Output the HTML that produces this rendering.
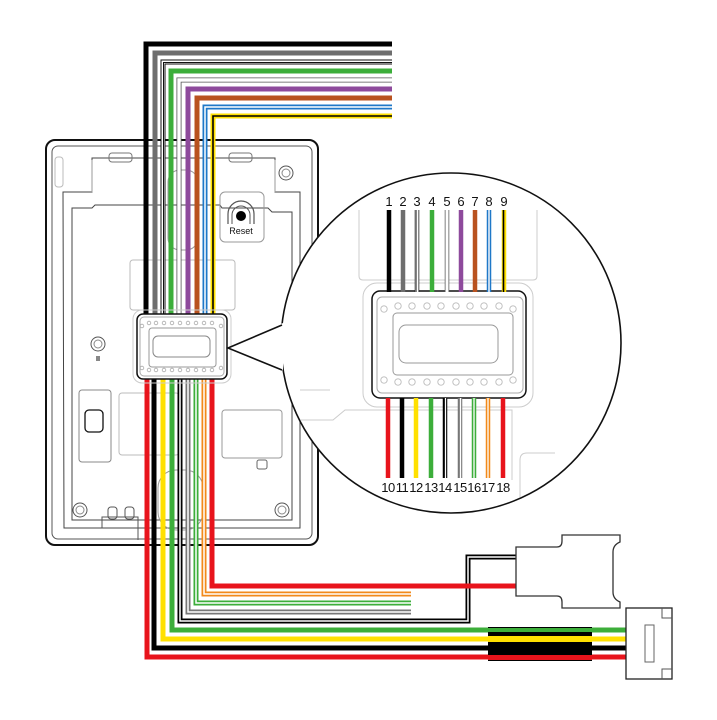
<!DOCTYPE html>
<html><head><meta charset="utf-8"><style>
html,body{margin:0;padding:0;background:#fff;}
svg{display:block;}
text{font-family:"Liberation Sans",sans-serif;}
</style></head><body>
<svg width="717" height="720" viewBox="0 0 717 720" xmlns="http://www.w3.org/2000/svg">
<defs><clipPath id="cc"><circle cx="451" cy="343" r="169"/></clipPath></defs>

<!-- Device -->
<rect x="46" y="140" width="272" height="405" rx="9" fill="#fff" stroke="#111" stroke-width="2"/>
<rect x="52" y="146" width="260" height="393" rx="6" fill="none" stroke="#555" stroke-width="1"/>
<rect x="55" y="157" width="8" height="30" rx="3" fill="none" stroke="#bbb"/>
<path d="M63 192 H92 V158 H275 V192 H300 V528 H64 Z" fill="none" stroke="#444" stroke-width="1"/>
<path d="M92 192 V160 M275 160 V192" stroke="#999" fill="none"/>
<path d="M72 208 H92 L95 205 H220 L222 208 H268 L272 212 H292 V520 H72 Z" fill="none" stroke="#444" stroke-width="1"/>
<rect x="109" y="153" width="23" height="9" rx="3" fill="none" stroke="#777"/>
<rect x="229" y="153" width="23" height="9" rx="3" fill="none" stroke="#777"/>
<rect x="220" y="192" width="44" height="50" rx="5" fill="none" stroke="#999"/>
<path d="M228 224 V214 A13 13 0 0 1 254 214 V224" fill="none" stroke="#555" stroke-width="1.2"/>
<path d="M232 224 V215 A9 9 0 0 1 250 215 V224" fill="none" stroke="#555" stroke-width="1"/>
<circle cx="241" cy="216" r="5" fill="#000"/>
<text x="241" y="234" font-size="9" text-anchor="middle" fill="#111">Reset</text>
<rect x="130" y="260" width="105" height="50" rx="3" fill="none" stroke="#bbb"/>
<rect x="168" y="170" width="30" height="80" rx="12" fill="none" stroke="#999"/>
<circle cx="98" cy="344" r="7" fill="none" stroke="#555"/><circle cx="98" cy="344" r="4" fill="none" stroke="#888"/>
<path d="M96 356 h4 v5 h-4z" fill="#888"/>
<circle cx="286" cy="173" r="7" fill="none" stroke="#555"/><circle cx="286" cy="173" r="4" fill="none" stroke="#888"/>
<circle cx="80" cy="510" r="7" fill="none" stroke="#555"/><circle cx="80" cy="510" r="4" fill="none" stroke="#888"/>
<circle cx="282" cy="510" r="7" fill="none" stroke="#555"/><circle cx="282" cy="510" r="4" fill="none" stroke="#888"/>
<rect x="79" y="390" width="32" height="72" rx="3" fill="none" stroke="#888"/>
<rect x="85" y="410" width="18" height="22" rx="4" fill="none" stroke="#111" stroke-width="1.3"/>
<rect x="119" y="393" width="60" height="62" rx="3" fill="none" stroke="#bbb"/>
<rect x="222" y="410" width="60" height="48" rx="3" fill="none" stroke="#999"/>
<rect x="257" y="460" width="10" height="9" rx="2" fill="none" stroke="#666"/>
<rect x="158" y="470" width="45" height="60" rx="18" fill="none" stroke="#999"/>
<path d="M102 528 V517 H138 V540" fill="none" stroke="#555"/>
<rect x="108" y="507" width="9" height="12" rx="3" fill="none" stroke="#555"/>
<rect x="125" y="507" width="9" height="12" rx="3" fill="none" stroke="#555"/>

<!-- Top wires -->
<g fill="none" stroke-linejoin="miter">
<path d="M146 315 V44 H392" stroke="#000" stroke-width="5"/>
<path d="M155 315 V53 H392" stroke="#6e6e6e" stroke-width="5"/>
<path d="M163 315 V62 H392" stroke="#111" stroke-width="5"/>
<path d="M163 315 V62 H392" stroke="#fff" stroke-width="3"/>
<path d="M163.5 315 V62.5 H392" stroke="#111" stroke-width="1"/>
<path d="M171 315 V71 H392" stroke="#3cae3a" stroke-width="5"/>
<path d="M179 315 V80 H392" stroke="#555" stroke-width="5"/>
<path d="M179 315 V80 H392" stroke="#fff" stroke-width="3.4"/>
<path d="M188 315 V89 H392" stroke="#8e4a9c" stroke-width="5"/>
<path d="M197 315 V98 H392" stroke="#b9521f" stroke-width="5"/>
<path d="M205 315 V107 H392" stroke="#1f78c8" stroke-width="5"/>
<path d="M205 315 V107 H392" stroke="#fff" stroke-width="1.5"/>
<path d="M213 315 V116 H392" stroke="#ffe000" stroke-width="5"/>
<path d="M213 315 V116 H392" stroke="#000" stroke-width="1.6"/>
</g>

<!-- Bottom wires -->
<g fill="none" stroke-linejoin="miter">
<path d="M147 378 V657 H626" stroke="#e8141c" stroke-width="5"/>
<path d="M154 378 V648 H626" stroke="#000" stroke-width="5"/>
<path d="M163 378 V639 H626" stroke="#ffe000" stroke-width="5"/>
<path d="M172 378 V630 H626" stroke="#3cae3a" stroke-width="5"/>
<path d="M180 378 V621 H468 V557 H517" stroke="#000" stroke-width="5"/>
<path d="M180 378 V621 H468 V557 H517" stroke="#fff" stroke-width="1.5"/>
<path d="M188 378 V612 H411" stroke="#777" stroke-width="5"/>
<path d="M188 378 V612 H411" stroke="#fff" stroke-width="1.5"/>
<path d="M196 378 V603 H411" stroke="#3cae3a" stroke-width="5"/>
<path d="M196 378 V603 H411" stroke="#fff" stroke-width="1.5"/>
<path d="M204 378 V594 H411" stroke="#f28a1b" stroke-width="5"/>
<path d="M204 378 V594 H411" stroke="#fff" stroke-width="1.5"/>
<path d="M212 378 V586 H517" stroke="#e8141c" stroke-width="5"/>
</g>

<!-- Sleeve -->
<rect x="488" y="627" width="104" height="34" fill="#000"/>
<rect x="488" y="628" width="104" height="4" fill="#3cae3a"/>
<rect x="488" y="636" width="104" height="6" fill="#ffe000"/>
<rect x="488" y="655" width="104" height="5" fill="#e8141c"/>

<!-- Connector 1 -->
<path d="M516 547 H557 Q562 547 562 541 V535 H620 V542 Q613 545 613 552 V592 Q613 599 620 602 V608 H562 V602 Q562 596 557 596 H516 Z" fill="#fff" stroke="#333" stroke-width="1.3"/>
<!-- Connector 2 -->
<rect x="626" y="608" width="46" height="71" fill="#fff" stroke="#222" stroke-width="1.3"/>
<path d="M662 608 V618 H672 M662 679 V669 H672" fill="none" stroke="#555"/>
<rect x="645" y="625" width="9" height="37" fill="none" stroke="#666"/>

<!-- Small connector -->
<rect x="133" y="310" width="98" height="73" rx="9" fill="none" stroke="#ccc"/>
<rect x="137" y="314" width="90" height="65" rx="6" fill="#fff" stroke="#111" stroke-width="1.5"/>
<rect x="140" y="317" width="84" height="59" rx="4" fill="none" stroke="#aaa"/>
<rect x="149" y="328" width="67" height="39" rx="3" fill="none" stroke="#999"/>
<rect x="153" y="336" width="57" height="21" rx="5" fill="none" stroke="#888"/>
<g fill="none" stroke="#aaa" stroke-width="0.8">
<circle cx="142" cy="326" r="1.8"/><circle cx="149" cy="323" r="1.8"/><circle cx="156" cy="323" r="1.8"/><circle cx="164" cy="323" r="1.8"/><circle cx="172" cy="323" r="1.8"/><circle cx="180" cy="323" r="1.8"/><circle cx="188" cy="323" r="1.8"/><circle cx="196" cy="323" r="1.8"/><circle cx="204" cy="323" r="1.8"/><circle cx="212" cy="323" r="1.8"/><circle cx="221" cy="326" r="1.8"/>
<circle cx="142" cy="368" r="1.8"/><circle cx="149" cy="370" r="1.8"/><circle cx="156" cy="370" r="1.8"/><circle cx="164" cy="370" r="1.8"/><circle cx="172" cy="370" r="1.8"/><circle cx="180" cy="370" r="1.8"/><circle cx="188" cy="370" r="1.8"/><circle cx="196" cy="370" r="1.8"/><circle cx="204" cy="370" r="1.8"/><circle cx="212" cy="370" r="1.8"/><circle cx="221" cy="368" r="1.8"/>
</g>

<!-- Callout circle -->
<circle cx="451" cy="343" r="170" fill="#fff" stroke="#111" stroke-width="1.6"/>
<polygon points="228,348 283,323 283,370" fill="#fff"/>
<path d="M282 325 L228 348 L282 370" fill="none" stroke="#111" stroke-width="1.6"/>

<g clip-path="url(#cc)">
<path d="M359 210 V276 Q359 280 363 280 H533 Q537 280 537 276 V210" fill="none" stroke="#ccc"/>
<path d="M280 420 H333 L345 410 H512 V480" fill="none" stroke="#ccc"/>
<path d="M520 500 V460 Q520 453 527 453 H555" fill="none" stroke="#ccc"/>
<path d="M300 390 H330" fill="none" stroke="#ccc"/>
<rect x="363" y="283" width="170" height="124" rx="14" fill="none" stroke="#ccc"/>
<rect x="372" y="291" width="154" height="107" rx="8" fill="#fff" stroke="#111" stroke-width="1.5"/>
<rect x="377" y="297" width="146" height="96" rx="5" fill="none" stroke="#aaa"/>
<rect x="393" y="313" width="120" height="62" rx="4" fill="none" stroke="#999"/>
<rect x="399" y="325" width="99" height="38" rx="7" fill="none" stroke="#999"/>
<g fill="none" stroke="#bbb" stroke-width="0.9">
<circle cx="384" cy="309" r="3.2"/><circle cx="398" cy="306" r="3.2"/><circle cx="412" cy="306" r="3.2"/><circle cx="427" cy="306" r="3.2"/><circle cx="441" cy="306" r="3.2"/><circle cx="456" cy="306" r="3.2"/><circle cx="470" cy="306" r="3.2"/><circle cx="484" cy="306" r="3.2"/><circle cx="499" cy="306" r="3.2"/><circle cx="513" cy="309" r="3.2"/>
<circle cx="384" cy="380" r="3.2"/><circle cx="398" cy="382" r="3.2"/><circle cx="412" cy="382" r="3.2"/><circle cx="427" cy="382" r="3.2"/><circle cx="441" cy="382" r="3.2"/><circle cx="456" cy="382" r="3.2"/><circle cx="470" cy="382" r="3.2"/><circle cx="484" cy="382" r="3.2"/><circle cx="499" cy="382" r="3.2"/><circle cx="513" cy="380" r="3.2"/>
</g>
</g>

<!-- circle top wires -->
<g fill="none">
<path d="M389 210 V292" stroke="#000" stroke-width="4.5"/>
<path d="M403 210 V292" stroke="#6e6e6e" stroke-width="4.5"/>
<path d="M417 210 V292" stroke="#111" stroke-width="4.5"/><path d="M417.7 210 V292" stroke="#fff" stroke-width="1.6"/><path d="M416 210 V292" stroke="#fff" stroke-width="0.8"/>
<path d="M432 210 V292" stroke="#3cae3a" stroke-width="4.5"/>
<path d="M447 210 V292" stroke="#555" stroke-width="4.5"/><path d="M447 210 V292" stroke="#fff" stroke-width="3"/>
<path d="M461 210 V292" stroke="#8e4a9c" stroke-width="4.5"/>
<path d="M475 210 V292" stroke="#b9521f" stroke-width="4.5"/>
<path d="M489 210 V292" stroke="#1f78c8" stroke-width="4.5"/><path d="M489 210 V292" stroke="#fff" stroke-width="1.4"/>
<path d="M504 210 V292" stroke="#ffe000" stroke-width="4.5"/><path d="M503.5 210 V292" stroke="#000" stroke-width="1.6"/>
</g>
<!-- circle bottom wires -->
<g fill="none">
<path d="M388 398 V478" stroke="#e8141c" stroke-width="4.5"/>
<path d="M402 398 V478" stroke="#000" stroke-width="4.5"/>
<path d="M416 398 V478" stroke="#ffe000" stroke-width="4.5"/>
<path d="M431 398 V478" stroke="#3cae3a" stroke-width="4.5"/>
<path d="M445 398 V478" stroke="#000" stroke-width="4.5"/><path d="M445.5 398 V478" stroke="#fff" stroke-width="1.3"/>
<path d="M460 398 V478" stroke="#777" stroke-width="4.5"/><path d="M460.5 398 V478" stroke="#fff" stroke-width="1.3"/>
<path d="M474 398 V478" stroke="#3cae3a" stroke-width="4.5"/><path d="M474 398 V478" stroke="#fff" stroke-width="1.3"/>
<path d="M488 398 V478" stroke="#f28a1b" stroke-width="4.5"/><path d="M488 398 V478" stroke="#fff" stroke-width="1.3"/>
<path d="M503 398 V478" stroke="#e8141c" stroke-width="4.5"/>
</g>
<g font-size="13" fill="#111" text-anchor="middle">
<text x="389" y="206">1</text><text x="403" y="206">2</text><text x="417" y="206">3</text><text x="432" y="206">4</text><text x="447" y="206">5</text><text x="461" y="206">6</text><text x="475" y="206">7</text><text x="489" y="206">8</text><text x="504" y="206">9</text>
</g>
<g font-size="13" fill="#111" text-anchor="middle" letter-spacing="-0.5">
<text x="388" y="492">10</text><text x="402" y="492">11</text><text x="416" y="492">12</text><text x="431" y="492">13</text><text x="445" y="492">14</text><text x="460" y="492">15</text><text x="474" y="492">16</text><text x="488" y="492">17</text><text x="503" y="492">18</text>
</g>
</svg>
</body></html>
